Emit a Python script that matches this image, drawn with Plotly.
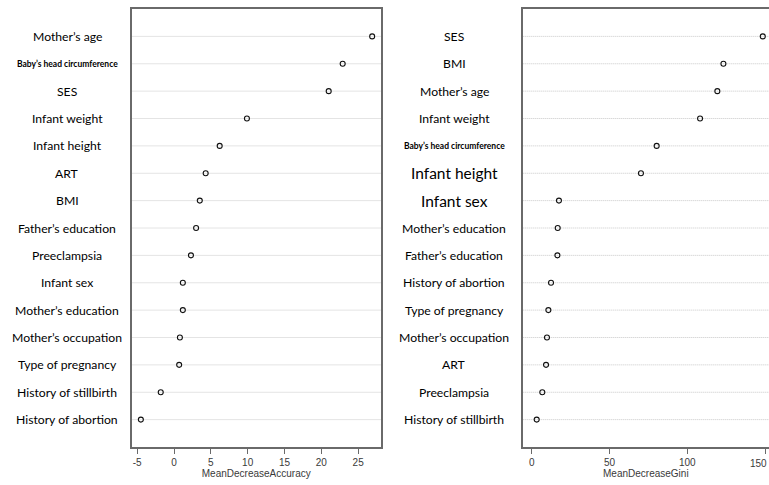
import plotly.graph_objects as go

# ---- data (top to bottom) ----
acc_labels = ["Mother’s age", "Baby’s head circumference", "SES", "Infant weight",
              "Infant height", "ART", "BMI", "Father’s education", "Preeclampsia",
              "Infant sex", "Mother’s education", "Mother’s occupation",
              "Type of pregnancy", "History of stillbirth", "History of abortion"]
acc_values = [26.9, 22.9, 21.0, 9.9, 6.2, 4.3, 3.5, 3.0, 2.3, 1.2, 1.2, 0.8, 0.7, -1.8, -4.5]

gini_labels = ["SES", "BMI", "Mother’s age", "Infant weight", "Baby’s head circumference",
               "Infant height", "Infant sex", "Mother’s education", "Father’s education",
               "History of abortion", "Type of pregnancy", "Mother’s occupation",
               "ART", "Preeclampsia", "History of stillbirth"]
gini_values = [148.5, 123.2, 119.3, 108.2, 80.3, 70.2, 17.5, 16.7, 16.5, 12.4, 10.7, 9.8, 9.2, 6.8, 3.2]

acc_ticks = [-5, 0, 5, 10, 15, 20, 25]
gini_ticks = [0, 50, 100, 150]

# ---- styling ----
W, H = 769, 485
LABEL_FONT = "Lato, 'Open Sans', sans-serif"
AXIS_FONT = "'Liberation Sans', Arial, sans-serif"
BOX = "#6a6a6a"
GRID = "#c8c8c8"
TICKCOL = "#3a3a3a"

left_styles = {"Baby’s head circumference": dict(size=8.5, bold=True)}
right_styles = {"Baby’s head circumference": dict(size=8.5, bold=True),
                "Infant height": dict(size=15.5, bold=False),
                "Infant sex": dict(size=15.5, bold=False)}

fig = go.Figure()

def add_panel(labels, values, xa, ya, styles, label_cx):
    cats = labels[::-1]
    for lab in labels:
        fig.add_shape(type="line", xref=f"{xa} domain", yref=ya,
                      x0=0, x1=1, y0=lab, y1=lab,
                      line=dict(color=GRID, width=1, dash="1px,1px"), layer="below")
    fig.add_trace(go.Scatter(
        x=values, y=labels, mode="markers", xaxis=xa, yaxis=ya,
        marker=dict(symbol="circle-open", size=5, color="#111111",
                    line=dict(width=1.1, color="#111111")),
        showlegend=False, hoverinfo="x+y"))
    for lab in labels:
        st = styles.get(lab, dict(size=12.2, bold=False))
        txt = f"<b>{lab}</b>" if st["bold"] else lab
        fig.add_annotation(xref="paper", yref=ya, x=label_cx / W, y=lab,
                           text=txt, showarrow=False, xanchor="center", yanchor="middle",
                           font=dict(family=LABEL_FONT, size=st["size"], color="#000000"))
    return cats

cats1 = add_panel(acc_labels, acc_values, "x", "y", left_styles, 67)
cats2 = add_panel(gini_labels, gini_values, "x2", "y2", right_styles, 454)

# last Gini tick label sits at the page edge: keep it fully inside
fig.add_annotation(xref="paper", yref="paper", x=1.0, y=(H - 463) / H,
                   text=str(gini_ticks[-1]), showarrow=False, xanchor="right",
                   yanchor="middle", font=dict(family=AXIS_FONT, size=10, color=TICKCOL))

ydom = [(H - 447) / H, (H - 9) / H]

fig.update_layout(
    width=W, height=H, margin=dict(l=0, r=0, t=0, b=0),
    paper_bgcolor="white", plot_bgcolor="white",
    xaxis=dict(domain=[131.5 / W, 381 / W], range=[-5.77, 28.1],
               tickvals=acc_ticks, ticktext=[str(t) for t in acc_ticks],
               ticks="outside", ticklen=5, tickcolor=BOX,
               showline=True, linecolor=BOX, linewidth=1.5, mirror=True,
               showgrid=False, zeroline=False,
               tickfont=dict(family=AXIS_FONT, size=10, color=TICKCOL),
               title=dict(text="MeanDecreaseAccuracy", standoff=2,
                          font=dict(family=AXIS_FONT, size=10, color=TICKCOL))),
    yaxis=dict(domain=ydom, type="category", categoryarray=cats1, range=[-1, 15],
               showticklabels=False, ticks="", showline=True, linecolor=BOX,
               linewidth=1.5, mirror=True, showgrid=False, zeroline=False),
    xaxis2=dict(domain=[522.7 / W, 1], range=[-5.8, 152.5], anchor="y2",
                tickvals=gini_ticks, ticktext=[str(t) for t in gini_ticks[:-1]] + [""],
                ticks="outside", ticklen=5, tickcolor=BOX,
                showline=True, linecolor=BOX, linewidth=1.5, mirror=True,
                showgrid=False, zeroline=False,
                tickfont=dict(family=AXIS_FONT, size=10, color=TICKCOL),
                title=dict(text="MeanDecreaseGini", standoff=2,
                           font=dict(family=AXIS_FONT, size=10, color=TICKCOL))),
    yaxis2=dict(domain=ydom, anchor="x2", type="category", categoryarray=cats2,
                range=[-1, 15], showticklabels=False, ticks="", showline=True,
                linecolor=BOX, linewidth=1.5, mirror=False, showgrid=False,
                zeroline=False),
)

fig.write_html("out.html")
